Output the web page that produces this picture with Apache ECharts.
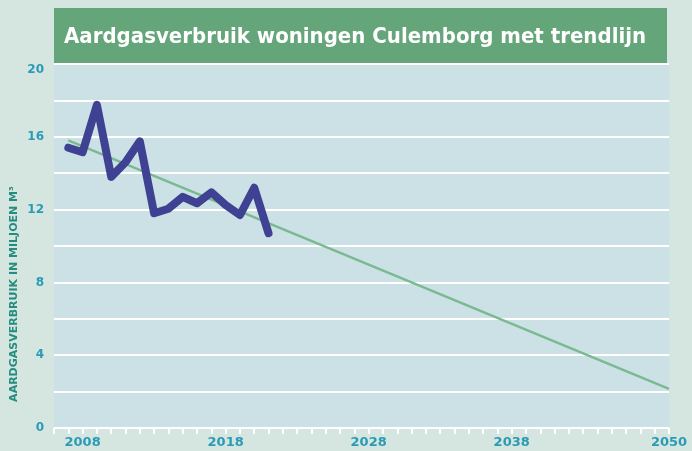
<!DOCTYPE html>
<html>
<head>
<meta charset="utf-8">
<script src="https://cdn.jsdelivr.net/npm/echarts@6/dist/echarts.min.js"></script>
<style>
    html, body { margin: 0; padding: 0; background: #d5e5df; }
    #chart { width: 692px; height: 451px; }
</style>
</head>
<body>
<div id="chart"></div>
<script>
// jaren en verbruik (miljoen m3)
const years = [2007, 2008, 2009, 2010, 2011, 2012, 2013, 2014, 2015, 2016, 2017, 2018, 2019, 2020, 2021];
const verbruik = [15.4, 15.15, 17.75, 13.8, 14.6, 15.75, 11.8, 12.05, 12.7, 12.35, 12.95, 12.25, 11.7, 13.2, 10.7];

// trendlijn: begin- en eindpunt
const trendYears = [2007, 2049];
const trendValues = [15.8, 2.15];

// as-labels
const xLabelAt = [2008, 2018, 2028, 2038, 2049];
const xLabels = ['2008', '2018', '2028', '2038', '2050'];
const yLabels = [0, 4, 8, 12, 16, 20];

document.addEventListener('DOMContentLoaded', () => {
    const chartDom = document.getElementById('chart');
    const myChart = echarts.init(chartDom);

    const option = {
        backgroundColor: '#d5e5df',
        animation: false,
        grid: {
            left: 54,
            right: 23,
            top: 64,
            bottom: 23,
            show: true,
            backgroundColor: '#cbe1e6',
            borderWidth: 0
        },
        graphic: [
            {
                type: 'rect',
                shape: { x: 54, y: 8, width: 613, height: 55 },
                style: { fill: '#64a57a' }
            },
            {
                type: 'text',
                x: 64,
                y: 37,
                style: {
                    text: 'Aardgasverbruik woningen Culemborg met trendlijn',
                    fill: '#ffffff',
                    font: 'bold 22px "DejaVu Sans Condensed"',
                    verticalAlign: 'middle'
                }
            },
            {
                type: 'text',
                x: 14,
                y: 294,
                rotation: Math.PI / 2,
                style: {
                    text: 'AARDGASVERBRUIK IN MILJOEN M³',
                    fill: '#258c80',
                    font: 'bold 11px "DejaVu Sans"',
                    align: 'center',
                    verticalAlign: 'middle'
                }
            }
        ],
        xAxis: {
            type: 'value',
            min: 2006,
            max: 2049,
            interval: 1,
            splitLine: { show: false },
            axisLine: { show: false },
            axisTick: {
                show: true,
                length: 6,
                lineStyle: { color: '#ffffff', width: 2 }
            },
            axisLabel: {
                margin: 8,
                color: '#2a9bb5',
                fontWeight: 'bold',
                fontSize: 13,
                fontFamily: 'DejaVu Sans',
                showMinLabel: true,
                showMaxLabel: true,
                formatter: (v) => {
                    const i = xLabelAt.indexOf(Math.round(v));
                    return i >= 0 ? xLabels[i] : '';
                }
            }
        },
        yAxis: {
            type: 'value',
            min: 0,
            max: 20,
            interval: 2,
            axisLine: { show: false },
            axisTick: { show: false },
            splitLine: {
                lineStyle: { color: '#ffffff', width: 2 }
            },
            axisLabel: {
                margin: 10,
                color: '#2a9bb5',
                fontWeight: 'bold',
                fontSize: 12,
                fontFamily: 'DejaVu Sans',
                verticalAlignMaxLabel: 'top',
                formatter: (v) => yLabels.includes(v) ? String(v) : ''
            }
        },
        series: [
            {
                type: 'line',
                data: trendYears.map((y, i) => [y, trendValues[i]]),
                symbol: 'none',
                lineStyle: { color: '#7bb991', width: 2.5 },
                z: 2
            },
            {
                type: 'line',
                data: years.map((y, i) => [y, verbruik[i]]),
                symbol: 'none',
                lineStyle: {
                    color: '#3f4292',
                    width: 8,
                    cap: 'round',
                    join: 'round'
                },
                z: 3
            }
        ]
    };

    myChart.setOption(option);

    window.addEventListener('resize', () => {
        myChart.resize();
    });
});
</script>
</body>
</html>
